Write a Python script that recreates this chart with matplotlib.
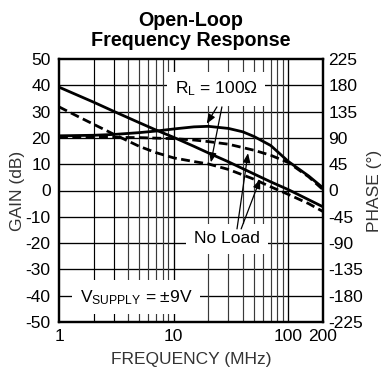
import matplotlib
matplotlib.use("Agg")
import matplotlib.pyplot as plt
from matplotlib.ticker import NullLocator

plt.rcParams['font.family'] = ['Liberation Sans', 'DejaVu Sans']
plt.rcParams['mathtext.fontset'] = 'custom'
plt.rcParams['mathtext.rm'] = 'Liberation Sans'
plt.rcParams['mathtext.default'] = 'regular'
plt.rcParams['axes.unicode_minus'] = False

# Gain curves (dB) vs frequency (MHz)
gain_noload_f = [1, 2, 3, 5, 7, 10, 15, 20, 30, 50, 70, 100, 150, 200]
gain_noload_db = [39.3, 33.6, 30.1, 25.8, 23.0, 20.2, 16.8, 14.3, 10.9, 6.3, 3.3, 0.3, -3.5, -6.2]

gain_rl_f = [1, 1.5, 2, 3, 5, 7, 10, 15, 20, 30, 50, 70, 100, 150, 200]
gain_rl_db = [31.8, 27.9, 25.2, 21.4, 16.8, 14.4, 12.4, 11.0, 10.1, 8.0, 4.3, 1.4, -1.5, -5.0, -8.0]

# Phase curves (degrees) vs frequency (MHz)
phase_rl_f = [1, 2, 3, 5, 7, 10, 15, 20, 30, 40, 50, 70, 100, 150, 200]
phase_rl_deg = [93.6, 94.5, 95.9, 99.0, 101.7, 105.3, 108.9, 109.8, 106.2, 100.4, 92.5, 77.0, 49.5, 24.8, 4.5]

phase_noload_f = [1, 3, 5, 10, 15, 20, 30, 50, 70, 100, 150, 200]
phase_noload_deg = [90.9, 90.9, 90.5, 88.7, 86.4, 83.7, 79.2, 68.9, 60.3, 47.7, 23.4, 1.4]

gain_ticks = list(range(-50, 51, 10))
phase_ticks = list(range(-225, 226, 45))
freq_ticks = [1, 10, 100, 200]
freq_labels = ['1', '10', '100', '200']
grid_freqs = [2, 3, 4, 5, 6, 7, 8, 9, 10, 20, 30, 40, 50, 60, 70, 80, 90, 100]

fig = plt.figure(figsize=(3.83, 3.72), dpi=100)
ax = fig.add_axes([59 / 383, 1 - 322 / 372, 264 / 383, 263 / 372])
ax.set_xscale('log')
ax.set_xlim(1, 200)
ax.set_ylim(-50, 50)

# grid
for g in gain_ticks[1:-1]:
    ax.axhline(g, color='black', lw=0.95, zorder=1)
for f in grid_freqs:
    major = f in (10, 100)
    ax.axvline(f, color='black' if major or f < 4 else '#3a3a3a',
               lw=0.95 if major else 0.85, zorder=1)

ax.set_xticks(freq_ticks)
ax.set_xticklabels(freq_labels)
ax.xaxis.set_minor_locator(NullLocator())
ax.set_yticks(gain_ticks)
ax.tick_params(length=0, labelsize=12.5, pad=5)
ax.tick_params(axis='y', pad=6)
for s in ax.spines.values():
    s.set_linewidth(1.6)

ax.plot(gain_noload_f, gain_noload_db, color='black', lw=2.0, zorder=3,
        solid_capstyle='butt')
ax.plot(gain_rl_f, gain_rl_db, color='black', lw=2.0, zorder=3,
        dashes=(3.2, 1.6))

ax.set_xlabel('FREQUENCY (MHz)', fontsize=12.5, color='#333333', labelpad=6)

ax2 = ax.twinx()
ax2.set_ylim(-225, 225)
ax2.set_yticks(phase_ticks)
ax2.tick_params(length=0, labelsize=12.5, pad=4)
for s in ax2.spines.values():
    s.set_linewidth(1.6)
ax2.plot(phase_rl_f, phase_rl_deg, color='black', lw=2.0, zorder=3)
ax2.plot(phase_noload_f, phase_noload_deg, color='black', lw=2.0, zorder=3,
         dashes=(3.2, 1.6))

fig.text(18 / 383, 1 - 191 / 372, 'GAIN (dB)', rotation=90, ha='center',
         va='center', fontsize=12.5, color='#333333')
fig.text(374 / 383, 1 - 191 / 372, 'PHASE (°)', rotation=90, ha='center',
         va='center', fontsize=12.5, color='#333333')

box = dict(boxstyle='square,pad=0.45', facecolor='white', edgecolor='none')
tr = ax.transData
ax2.text(23.4, 38.6, r'R$_{L}$ = 100Ω', transform=tr, ha='center', va='center',
         fontsize=12.5, bbox=box, zorder=5)
ax2.text(29.2, -18.4, 'No Load', transform=tr, ha='center', va='center',
         fontsize=12.5, bbox=box, zorder=5)
ax2.text(4.7, -40.6, r'V$_{SUPPLY}$ = ±9V', transform=tr, ha='center',
         va='center', fontsize=12.5, bbox=box, zorder=5)

arrow = dict(arrowstyle='-|>,head_length=0.55,head_width=0.22', color='black',
             lw=0.9, shrinkA=0, shrinkB=0)
for start, tip in [((23.8, 31.8), (19.4, 25.4)),
                   ((26.3, 31.8), (21.1, 10.7)),
                   ((35.6, -14.6), (44.4, 14.2)),
                   ((38.7, -14.6), (56.6, 4.3))]:
    ax2.annotate('', xy=tip, xycoords=tr, xytext=start, textcoords=tr,
                 arrowprops=arrow, zorder=5)

fig.text(191 / 383, 1 - 26 / 372, 'Open-Loop', ha='center', va='baseline',
         fontsize=14.2, fontweight='bold')
fig.text(191 / 383, 1 - 45.5 / 372, 'Frequency Response', ha='center',
         va='baseline', fontsize=14.2, fontweight='bold')

fig.savefig('out.png', dpi=100)
